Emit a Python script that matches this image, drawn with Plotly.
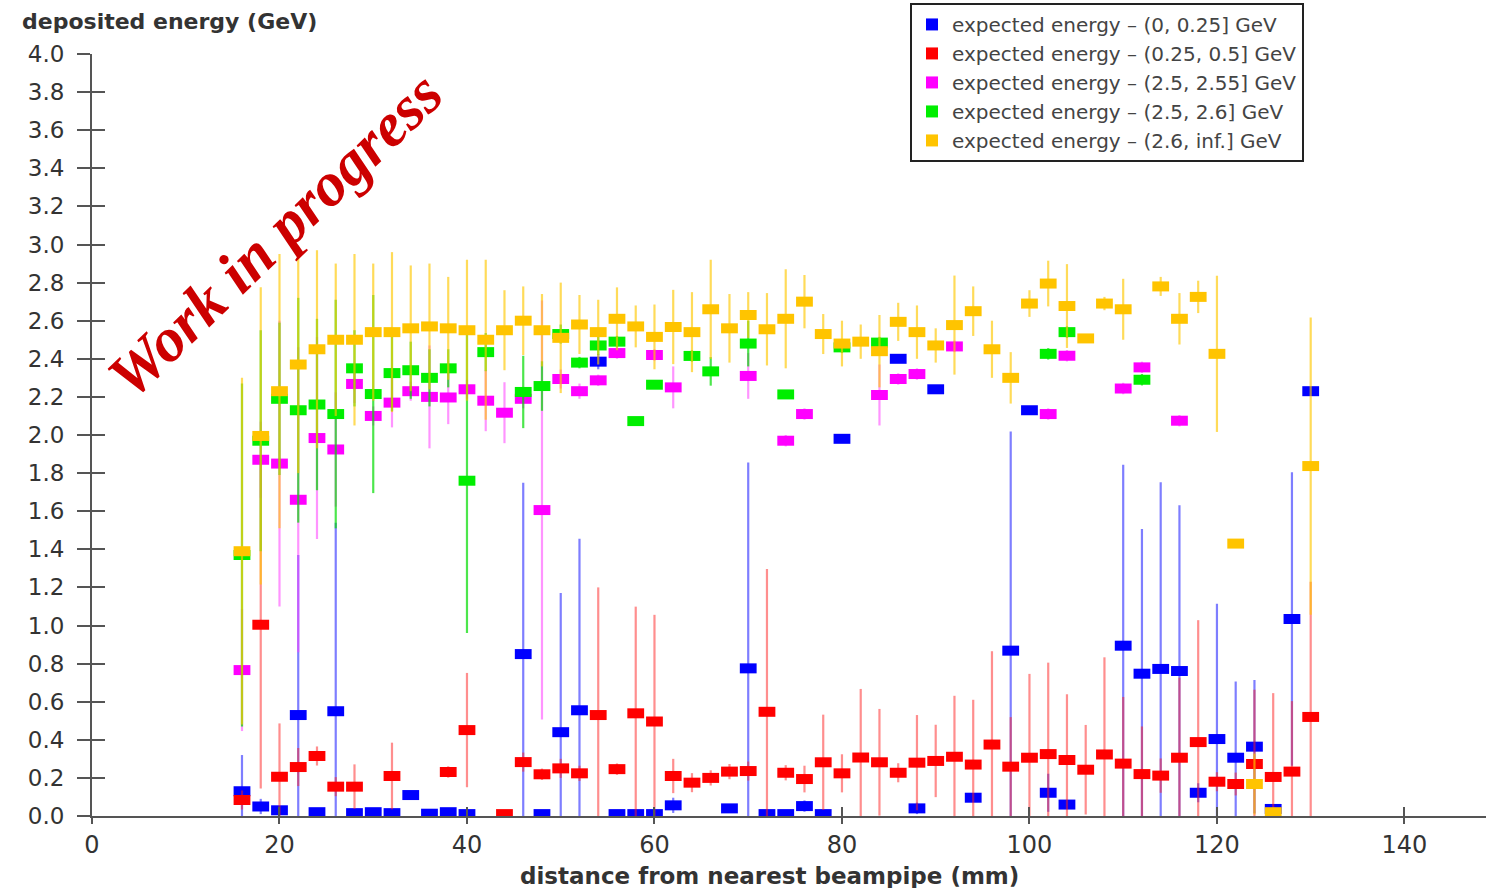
import plotly.graph_objects as go

distance_mm = [16, 18, 20, 22, 24, 26, 28, 30, 32, 34, 36, 38, 40, 42, 44, 46, 48, 50, 52, 54,
               56, 58, 60, 62, 64, 66, 68, 70, 72, 74, 76, 78, 80, 82, 84, 86, 88, 90, 92, 94,
               96, 98, 100, 102, 104, 106, 108, 110, 112, 114, 116, 118, 120, 122, 124, 126, 128, 130]

blue_val = [0.13, 0.05, 0.03, 0.53, 0.02, 0.55, 0.015, 0.02, 0.015, 0.11,
            0.012, 0.02, 0.01, None, None, 0.85, 0.01, 0.44, 0.555, 2.385,
            0.01, 0.01, 0.01, 0.056, None, None, 0.04, 0.775, 0.01, 0.01,
            0.052, 0.01, 1.98, None, None, 2.40, 0.04, 2.24, None, 0.096,
            None, 0.868, 2.13, 0.122, 0.06, None, None, 0.894, 0.747, 0.772,
            0.761, 0.122, 0.404, 0.306, 0.364, 0.037, 1.034, 2.23]
blue_err = [0.19, 0.04, 0.02, 0.84, 0.01, 0.99, 0.01, 0.01, 0.01, 0.02,
            0.01, 0.01, 0.01, None, None, 0.9, 0.01, 0.73, 0.9, 0.04,
            0.01, 0.01, 0.01, 0.04, None, None, 0.02, 1.08, 0.01, 0.01,
            0.03, 0.01, 0.02, None, None, 0.02, 0.03, 0.02, None, 0.02,
            None, 1.15, 0.02, 0.1, 0.02, None, None, 0.95, 0.76, 0.98,
            0.87, 0.05, 0.71, 0.40, 0.35, 0.02, 0.77, 0.02]

red_val = [0.084, 1.004, 0.206, 0.257, 0.315, 0.154, 0.154, None, 0.21, None,
           None, 0.231, 0.451, None, 0.01, 0.283, 0.219, 0.25, 0.224, 0.53,
           0.246, 0.539, 0.496, 0.21, 0.175, 0.20, 0.233, 0.236, 0.547, 0.227,
           0.194, 0.282, 0.224, 0.307, 0.282, 0.227, 0.28, 0.289, 0.311, 0.27,
           0.375, 0.259, 0.306, 0.325, 0.294, 0.243, 0.323, 0.275, 0.22, 0.212,
           0.306, 0.388, 0.18, 0.168, 0.273, 0.205, 0.233, 0.52]
red_err = [0.05, 0.86, 0.28, 0.1, 0.05, 0.05, 0.117, None, 0.175, None,
           None, 0.03, 0.3, None, 0.01, 0.05, 0.03, 0.05, 0.04, 0.67,
           0.03, 0.56, 0.56, 0.09, 0.05, 0.04, 0.04, 0.05, 0.75, 0.04,
           0.07, 0.25, 0.1, 0.36, 0.28, 0.05, 0.25, 0.19, 0.32, 0.34,
           0.49, 0.26, 0.44, 0.48, 0.345, 0.235, 0.51, 0.35, 0.25, 0.09,
           0.42, 0.64, 0.05, 0.06, 0.39, 0.44, 0.37, 0.71]

magenta_val = [0.766, 1.87, 1.85, 1.66, 1.984, 1.924, 2.268, 2.10, 2.17, 2.23,
               2.20, 2.197, 2.24, 2.18, 2.117, 2.19, 1.606, 2.294, 2.23, 2.287,
               2.43, None, 2.42, 2.25, None, None, None, 2.31, None, 1.97,
               2.11, None, None, None, 2.21, 2.294, 2.32, None, 2.465, None,
               None, None, None, 2.11, 2.416, None, None, 2.244, 2.355, None,
               2.075, None, None, None, None, None, None, None]
magenta_err = [0.32, 0.2, 0.75, 0.8, 0.53, 0.3, 0.1, 0.05, 0.13, 0.05,
               0.27, 0.14, 0.05, 0.16, 0.16, 0.05, 1.1, 0.05, 0.04, 0.03,
               0.03, None, 0.03, 0.11, None, None, None, 0.12, None, 0.03,
               0.03, None, None, None, 0.16, 0.03, 0.03, None, 0.03, None,
               None, None, None, 0.03, 0.03, None, None, 0.03, 0.03, None,
               0.03, None, None, None, None, None, None, None]

green_val = [1.37, 1.97, 2.19, 2.13, 2.16, 2.11, 2.35, 2.215, 2.325, 2.34,
             2.30, 2.35, 1.76, 2.435, None, 2.226, 2.257, 2.53, 2.38, 2.47,
             2.49, 2.073, 2.264, None, 2.415, 2.334, None, 2.48, None, 2.213,
             None, None, 2.46, None, 2.485, None, None, None, None, None,
             None, None, None, 2.426, 2.54, None, None, None, 2.29, None,
             None, None, None, None, None, None, None, None]
green_err = [0.9, 0.58, 0.4, 0.59, 0.45, 0.6, 0.2, 0.52, 0.2, 0.15,
             0.15, 0.1, 0.8, 0.1, None, 0.19, 0.13, 0.05, 0.03, 0.05,
             0.03, 0.02, 0.02, None, 0.03, 0.075, None, 0.12, None, 0.02,
             None, None, 0.03, None, 0.03, None, None, None, None, None,
             None, None, None, 0.03, 0.03, None, None, None, 0.03, None,
             None, None, None, None, None, None, None, None]

yellow_val = [1.39, 1.995, 2.23, 2.37, 2.45, 2.50, 2.50, 2.54, 2.54, 2.56,
              2.57, 2.56, 2.55, 2.50, 2.55, 2.60, 2.55, 2.51, 2.58, 2.54,
              2.61, 2.57, 2.515, 2.567, 2.54, 2.66, 2.56, 2.63, 2.555, 2.61,
              2.70, 2.53, 2.48, 2.49, 2.44, 2.594, 2.54, 2.47, 2.577, 2.65,
              2.45, 2.30, 2.69, 2.795, 2.677, 2.507, 2.69, 2.66, None, 2.78,
              2.61, 2.725, 2.426, 1.43, 0.168, 0.02, None, 1.837]
yellow_err = [0.91, 0.78, 0.72, 0.57, 0.52, 0.40, 0.45, 0.36, 0.42, 0.33,
              0.33, 0.27, 0.37, 0.42, 0.21, 0.18, 0.19, 0.29, 0.155, 0.17,
              0.165, 0.11, 0.17, 0.195, 0.21, 0.26, 0.18, 0.12, 0.19, 0.26,
              0.14, 0.105, 0.12, 0.09, 0.19, 0.10, 0.14, 0.09, 0.26, 0.13,
              0.15, 0.135, 0.07, 0.12, 0.22, 0.01, 0.035, 0.16, None, 0.05,
              0.135, 0.085, 0.41, 0.01, 0.16, 0.01, None, 0.78]

series_names = ["expected energy \u2013 (0, 0.25] GeV",
                "expected energy \u2013 (0.25, 0.5] GeV",
                "expected energy \u2013 (2.5, 2.55] GeV",
                "expected energy \u2013 (2.5, 2.6] GeV",
                "expected energy \u2013 (2.6, inf.] GeV"]
x_ticks = [0, 20, 40, 60, 80, 100, 120, 140]

marker_colors = ["#0000ff", "#ff0000", "#ff00ff", "#00ee00", "#ffc400"]
err_colors = ["rgba(40,40,255,0.6)", "rgba(255,30,30,0.5)", "rgba(255,60,255,0.55)",
              "rgba(0,220,0,0.7)", "rgba(255,200,0,0.65)"]

values = [blue_val, red_val, magenta_val, green_val, yellow_val]
errors = [blue_err, red_err, magenta_err, green_err, yellow_err]

fig = go.Figure()
for vals, errs, mc, ec, name in zip(values, errors, marker_colors, err_colors, series_names):
    fig.add_trace(go.Scatter(
        x=distance_mm, y=vals, mode="markers", name=name, showlegend=False,
        marker=dict(symbol="line-ew", size=12, color=mc, line=dict(color=mc, width=10)),
        error_y=dict(type="data", array=errs, symmetric=True, color=ec, thickness=2.2, width=0),
        cliponaxis=True,
    ))

# legend entries
for mc, name in zip(marker_colors, series_names):
    fig.add_trace(go.Scatter(
        x=[None], y=[None], mode="markers", name=name, xaxis="x2", yaxis="y2",
        marker=dict(symbol="square", size=12, color=mc),
    ))

XMAX = 148.7
axis_col = "#555555"
fig.update_layout(
    width=1486, height=888,
    margin=dict(l=92, r=0, t=54, b=72),
    paper_bgcolor="white", plot_bgcolor="white",
    font=dict(family="DejaVu Sans", color="#333333"),
    xaxis=dict(range=[0, XMAX], tickvals=x_ticks, ticks="outside", ticklen=6, tickwidth=2,
               tickcolor=axis_col, showline=True, linecolor=axis_col, linewidth=2,
               showgrid=False, zeroline=False,
               tickfont=dict(size=24, color="#333333")),
    yaxis=dict(range=[0, 4.0], tick0=0, dtick=0.2, tickformat=".1f", ticks="outside",
               ticklen=13, tickwidth=2, tickcolor=axis_col, showline=True, linecolor=axis_col,
               linewidth=2, showgrid=False, zeroline=False, ticklabelstandoff=8,
               tickfont=dict(size=23, color="#333333")),
    xaxis2=dict(overlaying="x", range=[0, XMAX], tickvals=x_ticks, ticks="inside", ticklen=9,
                tickwidth=2, tickcolor=axis_col, showticklabels=False, showgrid=False,
                zeroline=False, showline=False, anchor="y2"),
    yaxis2=dict(overlaying="y", range=[0, 4.0], tick0=0, dtick=0.2, ticks="inside", ticklen=13,
                tickwidth=2, tickcolor=axis_col, showticklabels=False, showgrid=False,
                zeroline=False, showline=False, anchor="x2", side="left"),
    legend=dict(x=0.5868, y=1.067, xanchor="left", yanchor="top",
                bordercolor="#222222", borderwidth=2, bgcolor="white",
                font=dict(size=20, color="#444444", family="DejaVu Sans"),
                tracegroupgap=0, itemwidth=30),
    annotations=[
        dict(text="deposited energy (GeV)", xref="paper", yref="paper",
             x=-0.0517, y=1.042, xanchor="left", yanchor="middle", showarrow=False,
             font=dict(size=22, color="#333333", weight="bold")),
        dict(text="distance from nearest beampipe (mm)", xref="paper", yref="paper",
             x=0.486, y=-0.0787, xanchor="center", yanchor="middle", showarrow=False,
             font=dict(size=23, color="#333333", weight="bold")),
        dict(text="Work in progress", xref="paper", yref="paper",
             x=0.131, y=0.762, xanchor="center", yanchor="middle", showarrow=False,
             textangle=-44,
             font=dict(family="Liberation Serif", size=62, color="#cc0000",
                       weight="bold", style="italic")),
    ],
)

fig.write_html("out.html")
